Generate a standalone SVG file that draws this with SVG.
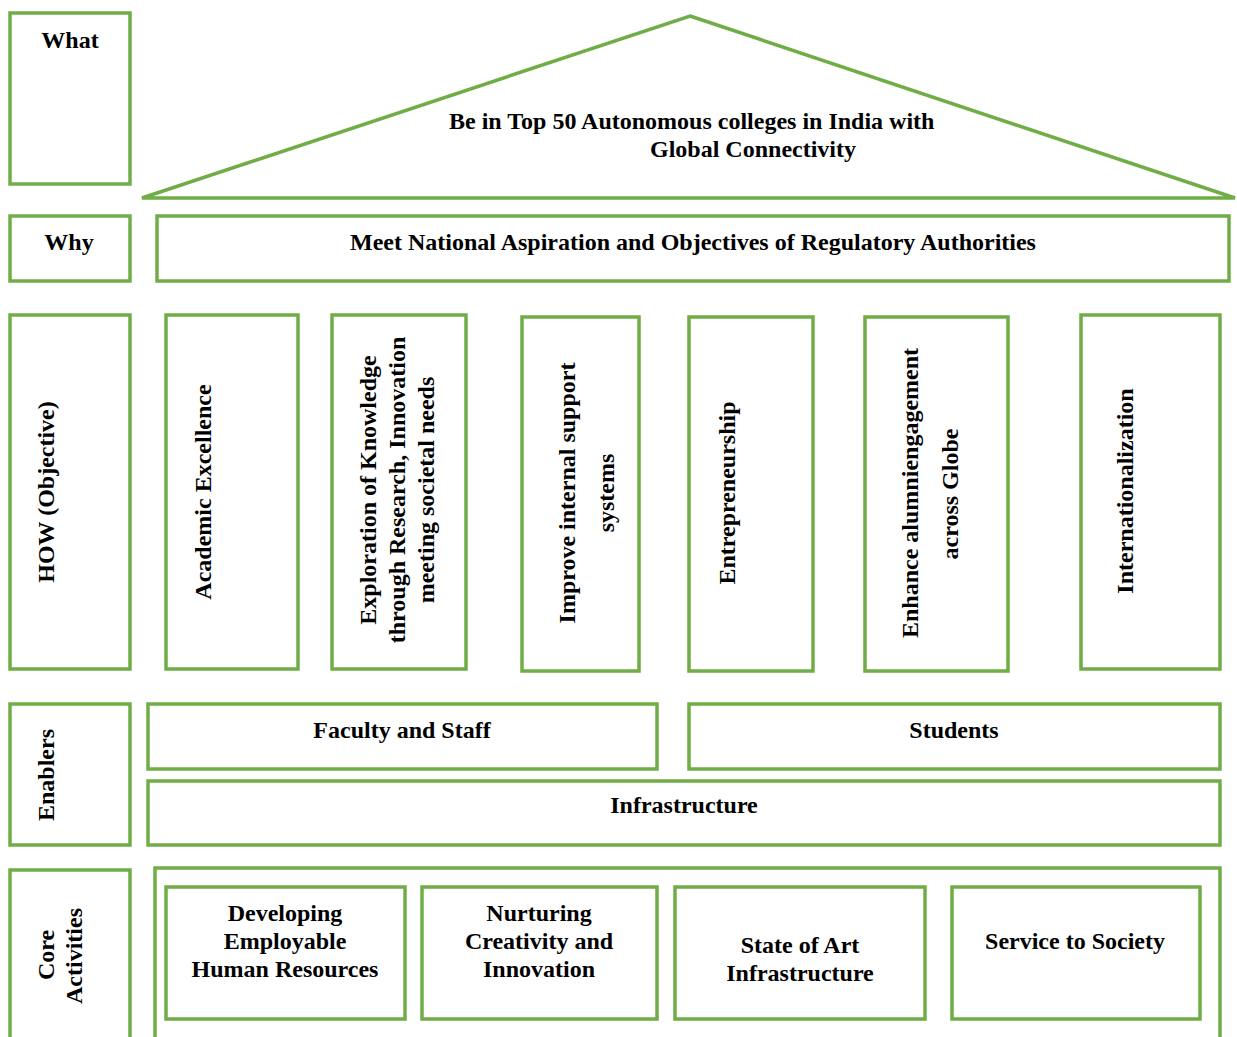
<svg xmlns="http://www.w3.org/2000/svg" width="1237" height="1037" viewBox="0 0 1237 1037">
<style>
.b{fill:#fff;stroke:#70AD47;stroke-width:3.5}
.o{fill:none;stroke:#70AD47;stroke-width:3.5}
text{font-family:"Liberation Serif","Times New Roman",serif;font-weight:bold;font-size:24px;fill:#000}
.m{text-anchor:middle}
.v{text-anchor:middle;dominant-baseline:central}
</style>
<rect width="1237" height="1037" fill="#fff"/>
<g id="what">
<rect class="b" x="10" y="13" width="120" height="171"/>
<text class="m" x="70" y="48">What</text>
</g>
<g id="goal">
<polygon class="b" points="690,16 1235,198 142,198"/>
<text x="449" y="129">Be in Top 50 Autonomous colleges in India with</text>
<text x="650" y="157">Global Connectivity</text>
</g>
<g id="why">
<rect class="b" x="10" y="216" width="120" height="65"/>
<text class="m" x="69" y="250">Why</text>
</g>
<g id="meet">
<rect class="b" x="157" y="216" width="1072" height="65"/>
<text class="m" x="693" y="250">Meet National Aspiration and Objectives of Regulatory Authorities</text>
</g>
<g id="how">
<rect class="b" x="10" y="315" width="120" height="354"/>
<text class="v" transform="translate(46,492) rotate(-90)">HOW (Objective)</text>
</g>
<g id="academic">
<rect class="b" x="166" y="315" width="132" height="354"/>
<text class="v" transform="translate(203,492) rotate(-90)">Academic Excellence</text>
</g>
<g id="exploration">
<rect class="b" x="332" y="315" width="134" height="354"/>
<text class="v" transform="translate(368,490) rotate(-90)">Exploration of Knowledge</text>
<text class="v" transform="translate(397,490) rotate(-90)">through Research, Innovation</text>
<text class="v" transform="translate(426,490) rotate(-90)">meeting societal needs</text>
</g>
<g id="improve">
<rect class="b" x="522" y="317" width="117" height="354"/>
<text class="v" transform="translate(567,493) rotate(-90)">Improve internal support</text>
<text class="v" transform="translate(606,493) rotate(-90)">systems</text>
</g>
<g id="entre">
<rect class="b" x="689" y="317" width="124" height="354"/>
<text class="v" transform="translate(727,493) rotate(-90)">Entrepreneurship</text>
</g>
<g id="alumni">
<rect class="b" x="865" y="317" width="143" height="354"/>
<text class="v" transform="translate(910,493) rotate(-90)">Enhance alumniengagement</text>
<text class="v" transform="translate(950,494) rotate(-90)">across Globe</text>
</g>
<g id="intl">
<rect class="b" x="1081" y="315" width="139" height="354"/>
<text class="v" transform="translate(1125,491) rotate(-90)">Internationalization</text>
</g>
<g id="enablers">
<rect class="b" x="10" y="704" width="120" height="141"/>
<text class="v" transform="translate(46,775) rotate(-90)">Enablers</text>
</g>
<g id="faculty">
<rect class="b" x="148" y="704" width="509" height="65"/>
<text class="m" x="402" y="738">Faculty and Staff</text>
</g>
<g id="students">
<rect class="b" x="689" y="704" width="531" height="65"/>
<text class="m" x="954" y="738">Students</text>
</g>
<g id="infra">
<rect class="b" x="148" y="781" width="1072" height="64"/>
<text class="m" x="684" y="813">Infrastructure</text>
</g>
<g id="core">
<path class="o" d="M10,1040 V870 H130 V1040"/>
<text class="v" transform="translate(46,955) rotate(-90)">Core</text>
<text class="v" transform="translate(74,956) rotate(-90)">Activities</text>
</g>
<g id="corebox">
<path class="o" d="M155,1040 V868 H1220 V1040"/>
</g>
<g id="developing">
<rect class="b" x="166" y="887" width="239" height="132"/>
<text class="m" x="285" y="921">Developing</text>
<text class="m" x="285" y="949">Employable</text>
<text class="m" x="285" y="977">Human Resources</text>
</g>
<g id="nurturing">
<rect class="b" x="422" y="887" width="235" height="132"/>
<text class="m" x="539" y="921">Nurturing</text>
<text class="m" x="539" y="949">Creativity and</text>
<text class="m" x="539" y="977">Innovation</text>
</g>
<g id="state">
<rect class="b" x="675" y="887" width="250" height="132"/>
<text class="m" x="800" y="953">State of Art</text>
<text class="m" x="800" y="981">Infrastructure</text>
</g>
<g id="service">
<rect class="b" x="952" y="887" width="248" height="132"/>
<text class="m" x="1075" y="949">Service to Society</text>
</g>
<g id="connectors"></g>
</svg>
